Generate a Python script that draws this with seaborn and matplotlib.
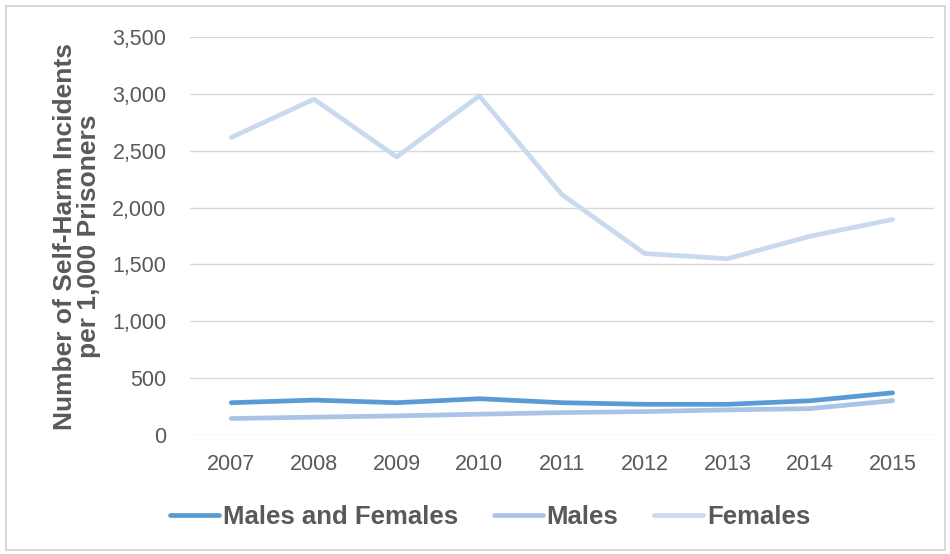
import matplotlib
matplotlib.use("Agg")
import matplotlib.pyplot as plt
import seaborn as sns
import pandas as pd
from matplotlib.patches import Rectangle
from matplotlib.lines import Line2D

years = ["2007", "2008", "2009", "2010", "2011", "2012", "2013", "2014", "2015"]
males_and_females = [284, 307, 284, 319, 284, 270, 270, 301, 371]
males = [145, 157, 168, 183, 197, 206, 221, 232, 302]
females = [2617, 2953, 2445, 2982, 2114, 1596, 1550, 1748, 1895]
series_names = ["Males and Females", "Males", "Females"]
colors = ["#5b9bd5", "#a9c4e6", "#c9daee"]

df = pd.DataFrame({
    "Year": years * 3,
    "Value": males_and_females + males + females,
    "Series": [series_names[0]] * 9 + [series_names[1]] * 9 + [series_names[2]] * 9,
})

sns.set_style("white")
plt.rcParams["font.family"] = ["Liberation Sans", "DejaVu Sans"]

fig = plt.figure(figsize=(9.5, 5.54), dpi=100)
ax = fig.add_axes([190 / 950, 1 - 435 / 554, (934 - 190) / 950, (435 - 37) / 554])

sns.lineplot(data=df, x="Year", y="Value", hue="Series", palette=colors,
             hue_order=series_names, ax=ax, linewidth=3.4, sort=False,
             legend=False, solid_capstyle="round")

ax.set_xlim(-0.5, 8.5)
ax.set_ylim(0, 3500)
ax.set_yticks(range(0, 3501, 500))
ax.set_yticklabels([f"{v:,}" for v in range(0, 3501, 500)])
ax.grid(axis="y", color="#d9d9d9", linewidth=1)
ax.set_axisbelow(True)
for s in ax.spines.values():
    s.set_visible(False)
ax.tick_params(axis="both", length=0, labelsize=15.5, colors="#595959")
ax.tick_params(axis="y", pad=17)
ax.tick_params(axis="x", pad=14)
ax.set_xlabel("")
ax.set_ylabel("Number of Self-Harm Incidents\nper 1,000 Prisoners", fontsize=19,
              fontweight="bold", color="#595959", labelpad=8, linespacing=1.0)

handles = [Line2D([0], [0], color=c, lw=3.4, solid_capstyle="round") for c in colors]
leg = fig.legend(handles, series_names, loc="center", bbox_to_anchor=(490 / 950, 1 - 517 / 554),
                 ncol=3, frameon=False, handlelength=1.9, handletextpad=0.15, columnspacing=1.4,
                 prop={"weight": "bold", "size": 18.5})
for t in leg.get_texts():
    t.set_color("#595959")

fig.patches.append(Rectangle((6 / 950, 4 / 554), 939 / 950, 544 / 554, transform=fig.transFigure,
                             fill=False, edgecolor="#d9d9d9", linewidth=1.5))

fig.savefig("out.png", dpi=100)
